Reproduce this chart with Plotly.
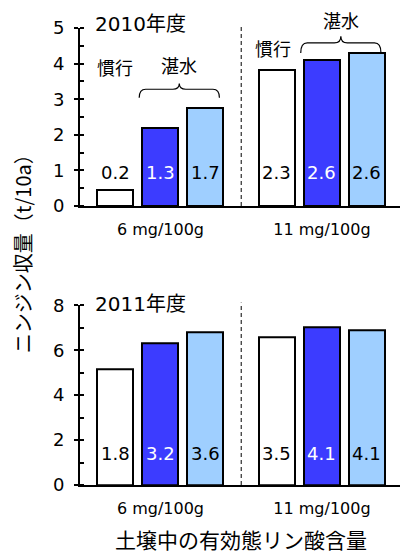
import plotly.graph_objects as go

# Carrot yield (t/10a) by soil available-phosphate level
groups = ["6 mg/100g", "11 mg/100g"]

yield_2010_conv = [0.45, 3.82]
yield_2010_flood_a = [2.2, 4.1]
yield_2010_flood_b = [2.74, 4.29]

yield_2011_conv = [5.15, 6.58]
yield_2011_flood_a = [6.31, 7.03]
yield_2011_flood_b = [6.79, 6.88]

# values printed inside the bars
label_2010_conv = ["0.2", "2.3"]
label_2010_flood_a = ["1.3", "2.6"]
label_2010_flood_b = ["1.7", "2.6"]

label_2011_conv = ["1.8", "3.5"]
label_2011_flood_a = ["3.2", "4.1"]
label_2011_flood_b = ["3.6", "4.1"]

FONT = "DejaVu Sans, Noto Sans CJK JP"
FONT_JP = "Noto Sans CJK JP"
C_CONV = "#FFFFFF"
C_FLOOD_A = "#3C3CFF"
C_FLOOD_B = "#9FCFFF"

OFFSETS = [-0.2786, 0.0, 0.2786]
BAR_W = 0.223

fig = go.Figure()


def add_panel(xa, ya, series, labels, label_y):
    colors = [C_CONV, C_FLOOD_A, C_FLOOD_B]
    text_colors = ["black", "white", "black"]
    for k, (vals, labs) in enumerate(zip(series, labels)):
        xs = [g + OFFSETS[k] for g in range(len(groups))]
        fig.add_trace(go.Bar(
            x=xs, y=vals, width=BAR_W,
            marker=dict(color=colors[k], line=dict(color="black", width=2)),
            xaxis=xa, yaxis=ya, showlegend=False, hoverinfo="y",
        ))
        for xv, t in zip(xs, labs):
            fig.add_annotation(
                x=xv, y=label_y, xref=xa, yref=ya, text=t, showarrow=False,
                yanchor="middle",
                font=dict(family=FONT, size=18, color=text_colors[k]),
            )


add_panel("x", "y",
          [yield_2010_conv, yield_2010_flood_a, yield_2010_flood_b],
          [label_2010_conv, label_2010_flood_a, label_2010_flood_b], 0.95)
add_panel("x2", "y2",
          [yield_2011_conv, yield_2011_flood_a, yield_2011_flood_b],
          [label_2011_conv, label_2011_flood_a, label_2011_flood_b], 1.4)


def brace(xa, ya, x_left, x_right, y0, h):
    """Horizontal curly brace opening downward."""
    xm = (x_left + x_right) / 2
    rx = 0.04
    y1 = y0 + h * 0.6
    y2 = y0 + h
    path = (f"M {x_left},{y0} Q {x_left},{y1} {x_left + rx},{y1} "
            f"L {xm - rx},{y1} Q {xm},{y1} {xm},{y2} "
            f"Q {xm},{y1} {xm + rx},{y1} "
            f"L {x_right - rx},{y1} Q {x_right},{y1} {x_right},{y0}")
    fig.add_shape(type="path", path=path, xref=xa, yref=ya,
                  line=dict(color="black", width=1.2))
    return xm


# treatment labels in the 2010 panel (label heights in axis-domain units)
for g, base, h, conv_y, flood_y in [(0, 3.04, 0.40, 0.782, 0.792),
                                     (1, 4.30, 0.47, 0.888, 1.045)]:
    xl = g + OFFSETS[1] - BAR_W / 2 - 0.02
    xr = g + OFFSETS[2] + BAR_W / 2 - 0.025
    xm = brace("x", "y", xl, xr, base, h)
    conv_x = g + OFFSETS[0] - (0.024 if g == 1 else 0.0)
    fig.add_annotation(x=conv_x, y=conv_y, xref="x", yref="y domain", text="慣行",
                       showarrow=False, yanchor="middle",
                       font=dict(family=FONT_JP, size=18, color="black"))
    fig.add_annotation(x=xm, y=flood_y, xref="x", yref="y domain", text="湛水",
                       showarrow=False, yanchor="middle",
                       font=dict(family=FONT_JP, size=18, color="black"))

# dashed separators between the two phosphate levels
for xa, ya in [("x", "y"), ("x2", "y2")]:
    fig.add_shape(type="line", x0=0.5, x1=0.5, y0=0, y1=1.015, xref=xa,
                  yref=f"{ya} domain",
                  line=dict(color="black", width=1, dash="4px,3px"))

xaxis_common = dict(
    range=[-0.498, 1.483], tickvals=[0, 1], ticktext=groups,
    showline=True, linecolor="black", linewidth=2, ticks="",
    showgrid=False, zeroline=False, ticklabelstandoff=8,
    tickfont=dict(family=FONT, size=16, color="black"),
)
yaxis_common = dict(
    showline=True, linecolor="black", linewidth=2,
    ticks="outside", ticklen=4, tickwidth=1.5, tickcolor="black",
    showgrid=False, zeroline=False, ticklabelstandoff=6,
    tickfont=dict(family=FONT, size=18, color="black"),
)

fig.update_layout(
    width=400, height=554,
    margin=dict(l=80, r=0, t=28, b=69),
    paper_bgcolor="white", plot_bgcolor="white",
    bargap=0, barmode="overlay",
    xaxis=dict(**xaxis_common, anchor="y", domain=[0, 1]),
    xaxis2=dict(**xaxis_common, anchor="y2", domain=[0, 1]),
    yaxis=dict(**yaxis_common, range=[0, 5], dtick=1, domain=[0.6105, 1],
               anchor="x",
               minor=dict(dtick=0.5, ticks="inside", ticklen=4, tickcolor="black")),
    yaxis2=dict(**yaxis_common, range=[0, 8], dtick=2, domain=[0, 0.3932],
                anchor="x2",
                minor=dict(dtick=1, ticks="inside", ticklen=4, tickcolor="black")),
)

# panel titles
for txt, yp in [("2010年度", 1.0088), ("2011年度", 0.396)]:
    fig.add_annotation(x=0.04, y=yp, xref="paper", yref="paper", text=txt,
                       xanchor="left", yanchor="middle", showarrow=False,
                       font=dict(family=FONT, size=20, color="black"))

# shared axis titles
fig.add_annotation(x=-0.181, y=0.516, xref="paper", yref="paper",
                   text="ニンジン収量（t/10a）", textangle=-90, showarrow=False,
                   xanchor="center", yanchor="middle",
                   font=dict(family=FONT_JP, size=20, color="black"))
fig.add_annotation(x=0.503, y=-0.118, xref="paper", yref="paper",
                   text="土壌中の有効態リン酸含量", showarrow=False,
                   xanchor="center", yanchor="middle",
                   font=dict(family=FONT_JP, size=21, color="black"))

fig.write_html("out.html")
